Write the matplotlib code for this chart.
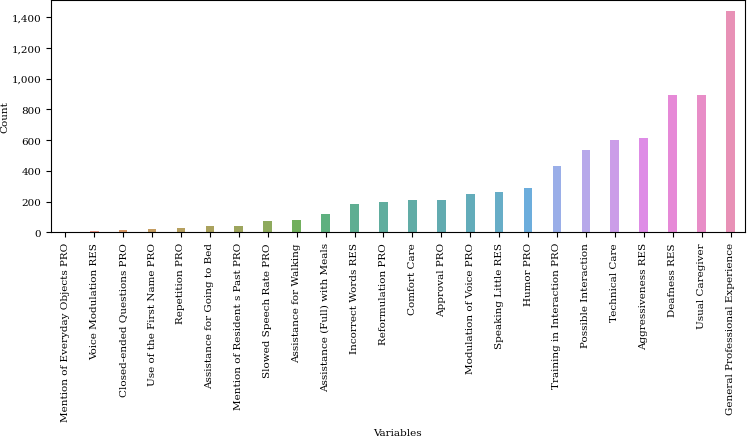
import matplotlib
matplotlib.use('Agg')
from matplotlib import pyplot as plt
from matplotlib.ticker import StrMethodFormatter
import seaborn as sns
import pandas as pd

variables = ['Mention of Everyday Objects PRO', 'Voice Modulation RES', 'Closed-ended Questions PRO',
             'Use of the First Name PRO', 'Repetition PRO', 'Assistance for Going to Bed',
             'Mention of Resident s Past PRO', 'Slowed Speech Rate PRO', 'Assistance for Walking',
             'Assistance (Full) with Meals', 'Incorrect Words RES', 'Reformulation PRO', 'Comfort Care',
             'Approval PRO', 'Modulation of Voice PRO', 'Speaking Little RES', 'Humor PRO',
             'Training in Interaction PRO', 'Possible Interaction', 'Technical Care', 'Aggressiveness RES',
             'Deafness RES', 'Usual Caregiver', 'General Professional Experience']
counts = [1, 6, 16, 24, 30, 38, 41, 72, 78, 116, 185, 196, 209, 213, 246, 263, 288,
          432, 537, 600, 612, 892, 893, 1440]

df = pd.DataFrame({'Variables': variables, 'Count': counts})

plt.rcParams['font.family'] = ['DejaVu Serif']
fs = 7.5
fig = plt.figure(figsize=(7.47, 4.39), dpi=100)
ax = fig.add_axes([0.068, 0.4686, 0.9293, 0.5291])
sns.barplot(data=df, x='Variables', y='Count', hue='Variables', palette='husl',
            legend=False, width=0.3, alpha=0.85, ax=ax)
ax.yaxis.set_major_formatter(StrMethodFormatter('{x:,.0f}'))
ax.tick_params(axis='x', labelrotation=90, labelsize=fs)
ax.tick_params(axis='y', labelsize=fs)
ax.set_xlabel('Variables', fontsize=fs, labelpad=5)
ax.set_ylabel('Count', fontsize=fs, labelpad=1.5)
plt.savefig('out.png')
